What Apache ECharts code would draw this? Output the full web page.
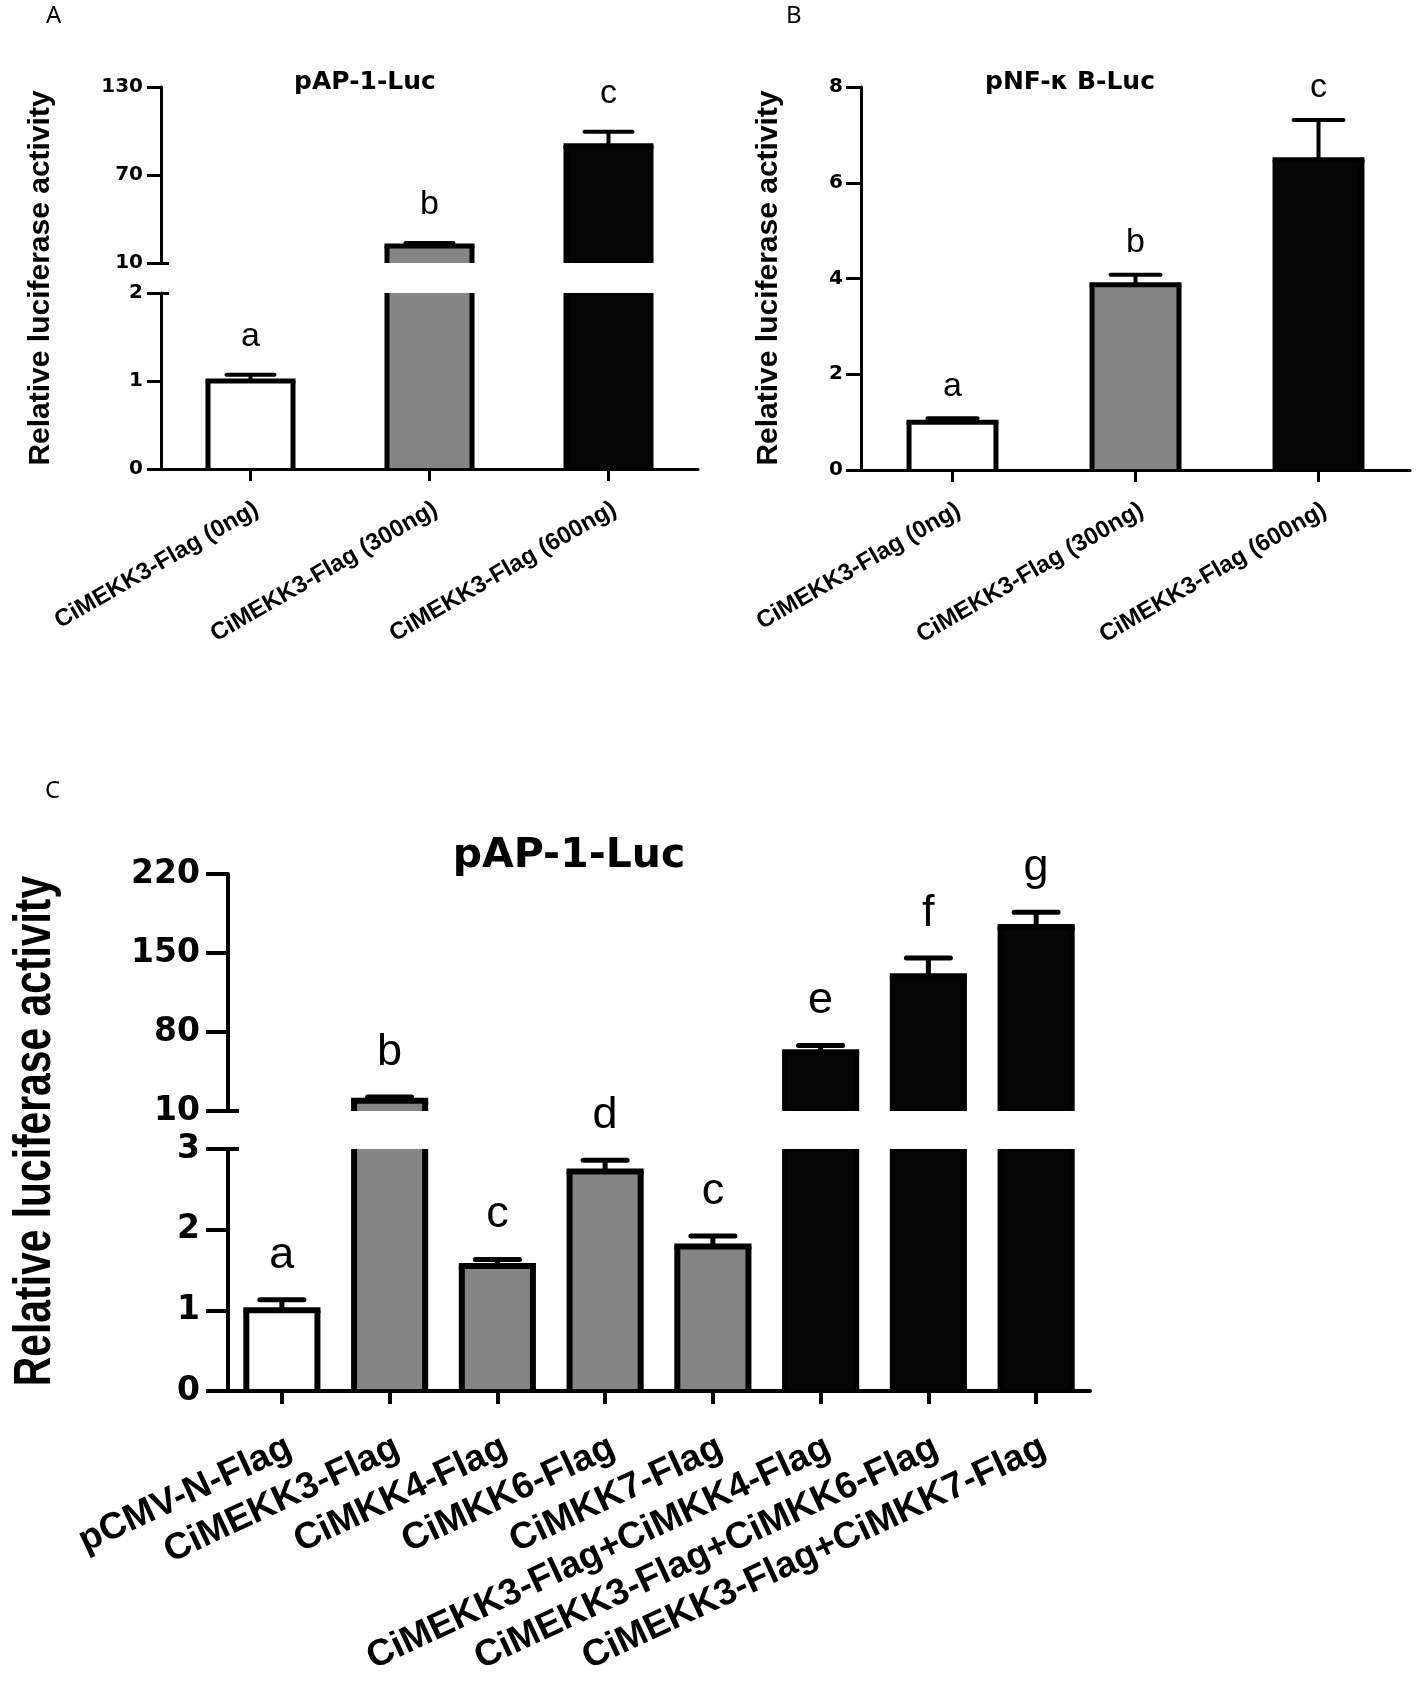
<!DOCTYPE html>
<html>
<head>
<meta charset="utf-8">
<script src="https://cdn.jsdelivr.net/npm/echarts@6/dist/echarts.min.js"></script>
<style>
html,body{margin:0;padding:0;background:#fff;}
#chart{width:1417px;height:1697px;}
</style>
</head>
<body>
<div id="chart"></div>
<script>
// ---------- data ----------
const catsAB = ['CiMEKK3-Flag (0ng)', 'CiMEKK3-Flag (300ng)', 'CiMEKK3-Flag (600ng)'];
const valuesA = [1.0, 21.6, 90];
const errorsA = [0.07, 2.0, 9.5];
const lettersA = ['a', 'b', 'c'];

const valuesB = [1.0, 3.87, 6.48];
const errorsB = [0.08, 0.21, 0.83];
const lettersB = ['a', 'b', 'c'];

const catsC = ['pCMV-N-Flag', 'CiMEKK3-Flag', 'CiMKK4-Flag', 'CiMKK6-Flag', 'CiMKK7-Flag',
  'CiMEKK3-Flag+CiMKK4-Flag', 'CiMEKK3-Flag+CiMKK6-Flag', 'CiMEKK3-Flag+CiMKK7-Flag'];
const valuesC = [1.0, 19, 1.55, 2.72, 1.79, 62, 129.5, 173];
const errorsC = [0.13, 3.4, 0.08, 0.14, 0.13, 6, 16, 13];
const lettersC = ['a', 'b', 'c', 'd', 'c', 'e', 'f', 'g'];

const ticksAUpper = [10, 70, 130];
const ticksALower = [0, 1, 2];
const ticksB = [0, 2, 4, 6, 8];
const ticksCUpper = [10, 80, 150, 220];
const ticksCLower = [0, 1, 2, 3];

// ---------- styles ----------
const BLACK = '#050505', GRAY = '#858585', WHITE = '#ffffff';
const fillsAB = [WHITE, GRAY, BLACK];
const fillsC = [WHITE, GRAY, GRAY, GRAY, GRAY, BLACK, BLACK, BLACK];
const WIDE = 'DejaVu Sans';
const ARIAL = 'Liberation Sans';

const stA = {barRatio: 0.475, border: 5, errW: 4, capW: 48, gap: 21, letterFont: 34,
  axisW: 3, tickLen: 14, labelMargin: 18, tickFont: 20, breakLen: 8,
  xTickLen: 12, xFont: 24, xRotate: 30, xMargin: 28};
const stB = {barRatio: 0.475, border: 5, errW: 4, capW: 50, gap: 15, letterFont: 34,
  axisW: 3, tickLen: 15, labelMargin: 18, tickFont: 20, breakLen: 8,
  xTickLen: 12, xFont: 24, xRotate: 30, xMargin: 28};
const stC = {barRatio: 0.66, border: 6, errW: 5, capW: 44, gap: 22, letterFont: 45,
  axisW: 4, tickLen: 22, labelMargin: 28, tickFont: 33, breakLen: 11,
  xTickLen: 13, xFont: 37, xRotate: 25, xMargin: 38};

function makeRender(letters, fills, min, max, st) {
  return function (params, api) {
    const i = api.value(0), v = api.value(1), e = api.value(2);
    const children = [];
    if (!(v > min)) return {type: 'group', children};
    const band = api.size([1, 0])[0];
    const w = band * st.barRatio;
    const base = api.coord([i, min]);
    const cx = base[0], yBase = base[1];
    const inside = v <= max;
    const yTop = api.coord([i, Math.min(v, max)])[1];
    const L = cx - w / 2, R = cx + w / 2;
    const ln = (x1, y1, x2, y2, lw) => ({
      type: 'line', shape: {x1, y1, x2, y2},
      style: {stroke: '#000', lineWidth: lw, lineCap: 'butt'}
    });
    children.push({type: 'rect', shape: {x: L, y: yTop, width: w, height: yBase - yTop},
      style: {fill: fills[i], stroke: null}});
    children.push(ln(L, yBase, L, yTop, st.border));
    children.push(ln(R, yBase, R, yTop, st.border));
    if (inside) {
      children.push(ln(L - st.border / 2, yTop, R + st.border / 2, yTop, st.border));
      const yErr = api.coord([i, v + e])[1];
      children.push(ln(cx, yTop, cx, yErr, st.errW));
      children.push({type: 'line', shape: {x1: cx - st.capW / 2, y1: yErr, x2: cx + st.capW / 2, y2: yErr},
        style: {stroke: '#000', lineWidth: st.errW, lineCap: 'round'}});
      children.push({type: 'text', x: cx, y: yErr - st.gap,
        style: {text: letters[params.dataIndex], fontFamily: ARIAL, fontSize: st.letterFont,
          fill: '#000', align: 'center', verticalAlign: 'bottom',
          textAlign: 'center', textVerticalAlign: 'bottom'}});
    }
    return {type: 'group', children};
  };
}

function barSeries(xi, yi, values, errors, letters, fills, min, max, st) {
  return {
    type: 'custom', coordinateSystem: 'cartesian2d', xAxisIndex: xi, yAxisIndex: yi,
    clip: false, z: 2, encode: {x: 0, y: 1},
    data: values.map((v, i) => [i, v, errors[i]]),
    renderItem: makeRender(letters, fills, min, max, st)
  };
}

function yMain(gridIndex, min, max, ticks, st) {
  return {
    type: 'value', gridIndex, min, max, position: 'left',
    axisLine: {show: true, lineStyle: {color: '#000', width: st.axisW}},
    axisTick: {show: true, length: st.tickLen, customValues: ticks,
      lineStyle: {color: '#000', width: st.axisW}},
    axisLabel: {show: true, customValues: ticks, margin: st.labelMargin, showMinLabel: true, showMaxLabel: true,
      color: '#000', fontFamily: WIDE, fontWeight: 'bold', fontSize: st.tickFont},
    splitLine: {show: false}
  };
}

function yBreak(gridIndex, min, max, at, st) {
  return {
    type: 'value', gridIndex, min, max, position: 'left', offset: 0,
    axisLine: {show: false},
    axisTick: {show: true, inside: true, length: st.breakLen, customValues: [at],
      lineStyle: {color: '#000', width: st.axisW}},
    axisLabel: {show: false},
    splitLine: {show: false}
  };
}

function xAx(gridIndex, cats, st, visible) {
  return {
    type: 'category', gridIndex, data: cats, boundaryGap: true, show: visible, z: 5,
    axisLine: {show: true, onZero: false, lineStyle: {color: '#000', width: st.axisW}},
    axisTick: {show: true, alignWithLabel: true, length: st.xTickLen,
      lineStyle: {color: '#000', width: st.axisW}},
    axisLabel: {interval: 0, rotate: st.xRotate, margin: st.xMargin, align: 'right', verticalAlign: 'top',
      color: '#000', fontFamily: ARIAL, fontWeight: 'bold', fontSize: st.xFont}
  };
}

function txt(x, y, text, size, family, weight, rot, align, valign, scaleX) {
  return {type: 'text', x, y, rotation: rot || 0, scaleX: scaleX || 1, z: 10,
    style: {text, fontSize: size, fontFamily: family, fontWeight: weight, fill: '#000',
      align: align || 'center', verticalAlign: valign || 'middle',
      textAlign: align || 'center', textVerticalAlign: valign || 'middle'}};
}

const option = {
  animation: false,
  backgroundColor: '#ffffff',
  grid: [
    {left: 161, top: 87, width: 537, height: 176},   // A upper
    {left: 161, top: 293, width: 537, height: 176},  // A lower
    {left: 861, top: 87, width: 549, height: 383},   // B
    {left: 228, top: 874, width: 862, height: 237},  // C upper
    {left: 228, top: 1149, width: 862, height: 242}  // C lower
  ],
  xAxis: [
    xAx(0, catsAB, stA, false),
    xAx(1, catsAB, stA, true),
    xAx(2, catsAB, stB, true),
    xAx(3, catsC, stC, false),
    xAx(4, catsC, stC, true)
  ],
  yAxis: [
    yMain(0, 10, 130, ticksAUpper, stA),
    yMain(1, 0, 2, ticksALower, stA),
    yMain(2, 0, 8, ticksB, stB),
    yMain(3, 10, 220, ticksCUpper, stC),
    yMain(4, 0, 3, ticksCLower, stC),
    yBreak(0, 10, 130, 10, stA),
    yBreak(1, 0, 2, 2, stA),
    yBreak(3, 10, 220, 10, stC),
    yBreak(4, 0, 3, 3, stC)
  ],
  series: [
    barSeries(0, 0, valuesA, errorsA, lettersA, fillsAB, 10, 130, stA),
    barSeries(1, 1, valuesA, errorsA, lettersA, fillsAB, 0, 2, stA),
    barSeries(2, 2, valuesB, errorsB, lettersB, fillsAB, 0, 8, stB),
    barSeries(3, 3, valuesC, errorsC, lettersC, fillsC, 10, 220, stC),
    barSeries(4, 4, valuesC, errorsC, lettersC, fillsC, 0, 3, stC)
  ],
  graphic: [
    txt(46, 16, 'A', 24, 'Noto Sans', 'normal', 0, 'left', 'middle'),
    txt(786, 16, 'B', 24, 'Noto Sans', 'normal', 0, 'left', 'middle'),
    txt(45, 791, 'C', 24, 'Noto Sans', 'normal', 0, 'left', 'middle'),
    txt(365, 82, 'pAP-1-Luc', 25, WIDE, 'bold'),
    txt(1070, 82, 'pNF-κ B-Luc', 25, WIDE, 'bold'),
    txt(569, 856, 'pAP-1-Luc', 41, WIDE, 'bold'),
    txt(41, 278, 'Relative luciferase activity', 30, ARIAL, 'bold', Math.PI / 2),
    txt(769, 278, 'Relative luciferase activity', 30, ARIAL, 'bold', Math.PI / 2),
    txt(36, 1131, 'Relative luciferase activity', 51, ARIAL, 'bold', Math.PI / 2, 'center', 'middle', 0.8)
  ]
};

const chart = echarts.init(document.getElementById('chart'), null, {renderer: 'canvas'});
chart.setOption(option);
</script>
</body>
</html>
